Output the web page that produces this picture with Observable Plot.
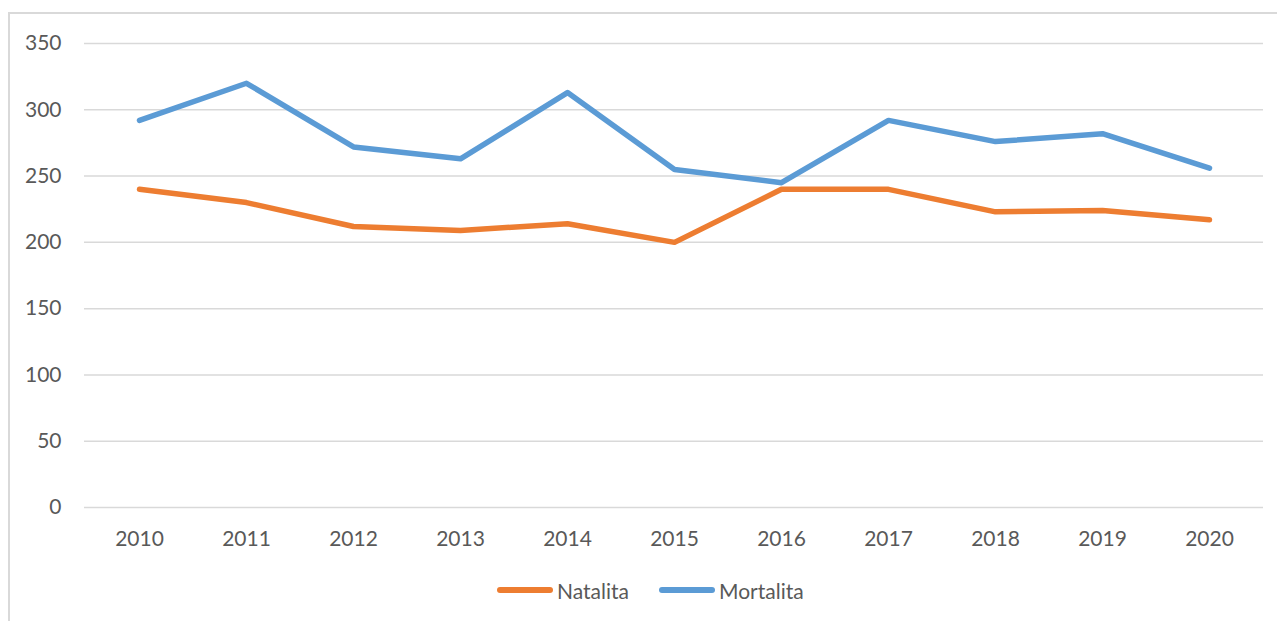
<!DOCTYPE html>
<html>
<head>
<meta charset="utf-8">
<script src="https://cdn.jsdelivr.net/npm/d3@7"></script>
<script src="https://cdn.jsdelivr.net/npm/@observablehq/plot@0.6"></script>
<style>
  html, body { margin: 0; padding: 0; background: #fff; width: 1277px; height: 621px; overflow: hidden; }
  #frame { position: absolute; left: 8px; top: 12px; width: 1280px; height: 620px;
           border-left: 2px solid #d9d9d9; border-top: 2px solid #d9d9d9; }
  #chart { position: absolute; left: 0; top: 0; }
  #legend { position: absolute; left: 0; top: 574px; width: 1277px; height: 32px;
            font-family: Lato, "Open Sans", sans-serif; font-size: 21px; color: #595959; }
  .item { position: absolute; top: 0; display: flex; align-items: center; height: 32px; }
  .swatch { width: 56px; height: 6px; border-radius: 3px; margin-right: 4px; }
</style>
</head>
<body>
<div id="frame"></div>
<div id="chart"></div>
<div id="legend"></div>
<script>
const years = ["2010","2011","2012","2013","2014","2015","2016","2017","2018","2019","2020"];
const natalita = [240, 230, 212, 209, 214, 200, 240, 240, 223, 224, 217];
const mortalita = [292, 320, 272, 263, 313, 255, 245, 292, 276, 282, 256];
const seriesNames = ["Natalita", "Mortalita"];
const seriesColors = ["#ed7d31", "#5b9bd5"];
const yTicks = [0, 50, 100, 150, 200, 250, 300, 350];

const data = [];
years.forEach((y, i) => {
  data.push({year: y, value: natalita[i], series: seriesNames[0]});
  data.push({year: y, value: mortalita[i], series: seriesNames[1]});
});

const plot = Plot.plot({
  width: 1277,
  height: 565,
  marginLeft: 84,
  marginRight: 14,
  marginTop: 43,
  marginBottom: 58,
  style: { fontFamily: "Lato, 'Open Sans', sans-serif", fontSize: "21px", color: "#595959", background: "transparent" },
  x: { type: "point", domain: years, padding: 0.5, label: null },
  y: { domain: [0, 350], ticks: yTicks, label: null },
  color: { domain: seriesNames, range: seriesColors },
  marks: [
    Plot.gridY(yTicks, { stroke: "#d9d9d9", strokeOpacity: 1, strokeWidth: 1.5 }),
    Plot.axisX({ tickSize: 0, tickPadding: 24, fill: "#595959" }),
    Plot.axisY({ ticks: yTicks, tickSize: 0, tickPadding: 23, fill: "#595959" }),
    Plot.line(data, { x: "year", y: "value", stroke: "series", z: "series",
                      strokeWidth: 5.5, strokeLinecap: "round", strokeLinejoin: "round" })
  ]
});
document.getElementById("chart").appendChild(plot);

const legend = document.getElementById("legend");
const lefts = [497, 659];
seriesNames.forEach((name, i) => {
  const item = document.createElement("div");
  item.className = "item";
  item.style.left = lefts[i] + "px";
  const sw = document.createElement("div");
  sw.className = "swatch";
  sw.style.background = seriesColors[i];
  const lab = document.createElement("span");
  lab.textContent = name;
  item.appendChild(sw);
  item.appendChild(lab);
  legend.appendChild(item);
});
</script>
</body>
</html>
